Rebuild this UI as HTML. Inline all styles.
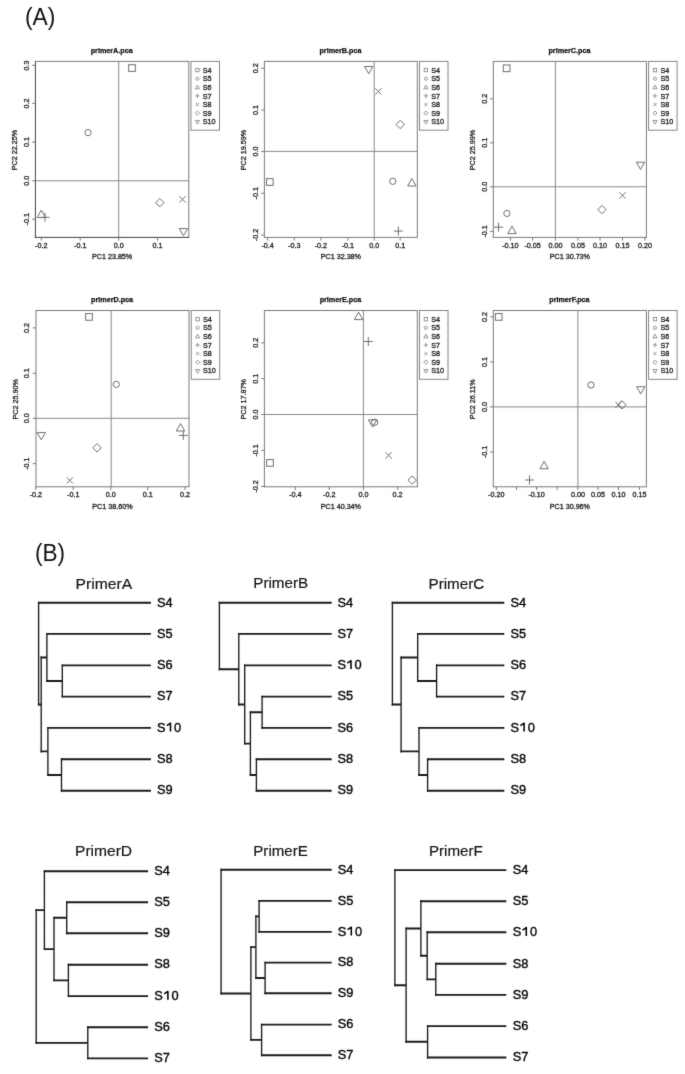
<!DOCTYPE html>
<html><head><meta charset="utf-8"><style>
html,body{margin:0;padding:0;background:#fff;width:685px;height:1074px;overflow:hidden}
svg{display:block;font-family:"Liberation Sans", sans-serif}
#w{filter:grayscale(1);width:685px;height:1074px}
.t{stroke:#222;stroke-width:0.3px}
</style></head><body><div id="w">
<svg width="685" height="1074" viewBox="0 0 685 1074"><defs><filter id="bl" x="0" y="0" width="1" height="1" color-interpolation-filters="sRGB"><feConvolveMatrix order="3" kernelMatrix="1 8 1 8 62 8 1 8 1" divisor="98" edgeMode="duplicate"/></filter></defs><g filter="url(#bl)"><rect width="685" height="1074" fill="#fff"/>
<path d="M118.7 61.4V237.4M35.4 180.8H188.8" stroke="#888" stroke-width="1"/>
<path d="M35.4 60.9V237.9M34.9 237.4H189.3" stroke="#404040" stroke-width="1"/>
<path d="M35.4 61.4H189.3M188.8 61.4V237.4" stroke="#7a7a7a" stroke-width="1"/>
<path d="M41.3 237.4V240.6" stroke="#7a7a7a" stroke-width="1"/>
<text x="41.3" y="247.70" text-anchor="middle" class="t" font-size="7.2" fill="#222">-0.2</text>
<path d="M80.2 237.4V240.6" stroke="#7a7a7a" stroke-width="1"/>
<text x="80.2" y="247.70" text-anchor="middle" class="t" font-size="7.2" fill="#222">-0.1</text>
<path d="M118.7 237.4V240.6" stroke="#7a7a7a" stroke-width="1"/>
<text x="118.7" y="247.70" text-anchor="middle" class="t" font-size="7.2" fill="#222">0.0</text>
<path d="M157.5 237.4V240.6" stroke="#7a7a7a" stroke-width="1"/>
<text x="157.5" y="247.70" text-anchor="middle" class="t" font-size="7.2" fill="#222">0.1</text>
<path d="M35.4 65.4H32.199999999999996" stroke="#7a7a7a" stroke-width="1"/>
<text transform="translate(28.599999999999998 65.4) rotate(-90)" text-anchor="middle" class="t" font-size="7.2" fill="#222">0.3</text>
<path d="M35.4 103.4H32.199999999999996" stroke="#7a7a7a" stroke-width="1"/>
<text transform="translate(28.599999999999998 103.4) rotate(-90)" text-anchor="middle" class="t" font-size="7.2" fill="#222">0.2</text>
<path d="M35.4 142.1H32.199999999999996" stroke="#7a7a7a" stroke-width="1"/>
<text transform="translate(28.599999999999998 142.1) rotate(-90)" text-anchor="middle" class="t" font-size="7.2" fill="#222">0.1</text>
<path d="M35.4 180.8H32.199999999999996" stroke="#7a7a7a" stroke-width="1"/>
<text transform="translate(28.599999999999998 180.8) rotate(-90)" text-anchor="middle" class="t" font-size="7.2" fill="#222">0.0</text>
<path d="M35.4 219.2H32.199999999999996" stroke="#7a7a7a" stroke-width="1"/>
<text transform="translate(28.599999999999998 219.2) rotate(-90)" text-anchor="middle" class="t" font-size="7.2" fill="#222">-0.1</text>
<rect x="128.65" y="64.70" width="6.70" height="6.70" fill="none" stroke="#6e6e6e" stroke-width="1.0"/>
<circle cx="88.04" cy="132.60" r="3.15" fill="none" stroke="#6e6e6e" stroke-width="1.0"/>
<polygon points="41.36,210.10 45.54,217.60 37.18,217.60" fill="none" stroke="#6e6e6e" stroke-width="1.0"/>
<path d="M40.58 217.30H49.48M45.03 212.85V221.75" stroke="#6e6e6e" stroke-width="1.0"/>
<path d="M179.35 196.25L185.65 202.55M179.35 202.55L185.65 196.25" stroke="#6e6e6e" stroke-width="1.0"/>
<polygon points="159.83,198.50 164.03,202.70 159.83,206.90 155.63,202.70" fill="none" stroke="#6e6e6e" stroke-width="1.0"/>
<polygon points="183.40,235.82 187.58,228.59 179.22,228.59" fill="none" stroke="#6e6e6e" stroke-width="1.0"/>
<text x="111.70" y="52.90" text-anchor="middle" font-size="7.2" font-weight="bold" fill="#111" stroke="#111" stroke-width="0.25">primerA.pca</text>
<text x="112.10" y="259.20" text-anchor="middle" class="t" font-size="7.2" fill="#222">PC1 23.85%</text>
<text transform="translate(17.4 150.00) rotate(-90)" text-anchor="middle" class="t" font-size="7.2" fill="#222">PC2 22.25%</text>
<rect x="191.00" y="61.4" width="28.50" height="68.80" fill="none" stroke="#858585" stroke-width="1"/>
<rect x="195.72" y="68.42" width="3.35" height="3.35" fill="none" stroke="#8a8a8a" stroke-width="0.9"/>
<text x="202.80" y="72.70" class="t" font-size="7.2" fill="#222">S4</text>
<circle cx="197.40" cy="78.70" r="1.57" fill="none" stroke="#8a8a8a" stroke-width="0.9"/>
<text x="202.80" y="81.30" class="t" font-size="7.2" fill="#222">S5</text>
<polygon points="197.40,85.05 199.49,88.80 195.31,88.80" fill="none" stroke="#8a8a8a" stroke-width="0.9"/>
<text x="202.80" y="89.90" class="t" font-size="7.2" fill="#222">S6</text>
<path d="M195.18 95.90H199.62M197.40 93.67V98.12" stroke="#8a8a8a" stroke-width="0.9"/>
<text x="202.80" y="98.50" class="t" font-size="7.2" fill="#222">S7</text>
<path d="M195.83 102.92L198.97 106.08M195.83 106.08L198.97 102.92" stroke="#8a8a8a" stroke-width="0.9"/>
<text x="202.80" y="107.10" class="t" font-size="7.2" fill="#222">S8</text>
<polygon points="197.40,111.00 199.50,113.10 197.40,115.20 195.30,113.10" fill="none" stroke="#8a8a8a" stroke-width="0.9"/>
<text x="202.80" y="115.70" class="t" font-size="7.2" fill="#222">S9</text>
<polygon points="197.40,124.11 199.49,120.49 195.31,120.49" fill="none" stroke="#8a8a8a" stroke-width="0.9"/>
<text x="202.80" y="124.30" class="t" font-size="7.2" fill="#222">S10</text>
<path d="M374.2 61.4V237.4M264.4 151.4H417.3" stroke="#888" stroke-width="1"/>
<path d="M264.4 60.9V237.9M263.9 237.4H417.8" stroke="#7a7a7a" stroke-width="1"/>
<path d="M264.4 61.4H417.8M417.3 61.4V237.4" stroke="#7a7a7a" stroke-width="1"/>
<path d="M267.6 237.4V240.6" stroke="#7a7a7a" stroke-width="1"/>
<text x="267.6" y="247.70" text-anchor="middle" class="t" font-size="7.2" fill="#222">-0.4</text>
<path d="M294.2 237.4V240.6" stroke="#7a7a7a" stroke-width="1"/>
<text x="294.2" y="247.70" text-anchor="middle" class="t" font-size="7.2" fill="#222">-0.3</text>
<path d="M320.9 237.4V240.6" stroke="#7a7a7a" stroke-width="1"/>
<text x="320.9" y="247.70" text-anchor="middle" class="t" font-size="7.2" fill="#222">-0.2</text>
<path d="M347.9 237.4V240.6" stroke="#7a7a7a" stroke-width="1"/>
<text x="347.9" y="247.70" text-anchor="middle" class="t" font-size="7.2" fill="#222">-0.1</text>
<path d="M374.2 237.4V240.6" stroke="#7a7a7a" stroke-width="1"/>
<text x="374.2" y="247.70" text-anchor="middle" class="t" font-size="7.2" fill="#222">0.0</text>
<path d="M400.2 237.4V240.6" stroke="#7a7a7a" stroke-width="1"/>
<text x="400.2" y="247.70" text-anchor="middle" class="t" font-size="7.2" fill="#222">0.1</text>
<path d="M264.4 68.3H261.2" stroke="#7a7a7a" stroke-width="1"/>
<text transform="translate(257.59999999999997 68.3) rotate(-90)" text-anchor="middle" class="t" font-size="7.2" fill="#222">0.2</text>
<path d="M264.4 110H261.2" stroke="#7a7a7a" stroke-width="1"/>
<text transform="translate(257.59999999999997 110) rotate(-90)" text-anchor="middle" class="t" font-size="7.2" fill="#222">0.1</text>
<path d="M264.4 151.4H261.2" stroke="#7a7a7a" stroke-width="1"/>
<text transform="translate(257.59999999999997 151.4) rotate(-90)" text-anchor="middle" class="t" font-size="7.2" fill="#222">0.0</text>
<path d="M264.4 193.2H261.2" stroke="#7a7a7a" stroke-width="1"/>
<text transform="translate(257.59999999999997 193.2) rotate(-90)" text-anchor="middle" class="t" font-size="7.2" fill="#222">-0.1</text>
<path d="M264.4 235H261.2" stroke="#7a7a7a" stroke-width="1"/>
<text transform="translate(257.59999999999997 235) rotate(-90)" text-anchor="middle" class="t" font-size="7.2" fill="#222">-0.2</text>
<rect x="266.45" y="178.65" width="6.70" height="6.70" fill="none" stroke="#6e6e6e" stroke-width="1.0"/>
<circle cx="392.80" cy="181.30" r="3.15" fill="none" stroke="#6e6e6e" stroke-width="1.0"/>
<polygon points="411.80,178.50 415.98,186.00 407.62,186.00" fill="none" stroke="#6e6e6e" stroke-width="1.0"/>
<path d="M393.85 231.10H402.75M398.30 226.65V235.55" stroke="#6e6e6e" stroke-width="1.0"/>
<path d="M375.25 88.25L381.55 94.55M375.25 94.55L381.55 88.25" stroke="#6e6e6e" stroke-width="1.0"/>
<polygon points="400.20,120.30 404.40,124.50 400.20,128.70 396.00,124.50" fill="none" stroke="#6e6e6e" stroke-width="1.0"/>
<polygon points="368.70,73.72 372.88,66.49 364.52,66.49" fill="none" stroke="#6e6e6e" stroke-width="1.0"/>
<text x="340.45" y="52.90" text-anchor="middle" font-size="7.2" font-weight="bold" fill="#111" stroke="#111" stroke-width="0.25">primerB.pca</text>
<text x="340.85" y="259.20" text-anchor="middle" class="t" font-size="7.2" fill="#222">PC1 32.38%</text>
<text transform="translate(246.39999999999998 150.00) rotate(-90)" text-anchor="middle" class="t" font-size="7.2" fill="#222">PC2 19.59%</text>
<rect x="419.50" y="61.4" width="28.50" height="68.80" fill="none" stroke="#858585" stroke-width="1"/>
<rect x="424.22" y="68.42" width="3.35" height="3.35" fill="none" stroke="#8a8a8a" stroke-width="0.9"/>
<text x="431.30" y="72.70" class="t" font-size="7.2" fill="#222">S4</text>
<circle cx="425.90" cy="78.70" r="1.57" fill="none" stroke="#8a8a8a" stroke-width="0.9"/>
<text x="431.30" y="81.30" class="t" font-size="7.2" fill="#222">S5</text>
<polygon points="425.90,85.05 427.99,88.80 423.81,88.80" fill="none" stroke="#8a8a8a" stroke-width="0.9"/>
<text x="431.30" y="89.90" class="t" font-size="7.2" fill="#222">S6</text>
<path d="M423.67 95.90H428.12M425.90 93.67V98.12" stroke="#8a8a8a" stroke-width="0.9"/>
<text x="431.30" y="98.50" class="t" font-size="7.2" fill="#222">S7</text>
<path d="M424.32 102.92L427.47 106.08M424.32 106.08L427.47 102.92" stroke="#8a8a8a" stroke-width="0.9"/>
<text x="431.30" y="107.10" class="t" font-size="7.2" fill="#222">S8</text>
<polygon points="425.90,111.00 428.00,113.10 425.90,115.20 423.80,113.10" fill="none" stroke="#8a8a8a" stroke-width="0.9"/>
<text x="431.30" y="115.70" class="t" font-size="7.2" fill="#222">S9</text>
<polygon points="425.90,124.11 427.99,120.49 423.81,120.49" fill="none" stroke="#8a8a8a" stroke-width="0.9"/>
<text x="431.30" y="124.30" class="t" font-size="7.2" fill="#222">S10</text>
<path d="M555.4 61.4V237.4M493.3 186.8H646.4" stroke="#888" stroke-width="1"/>
<path d="M493.3 60.9V237.9M492.8 237.4H646.9" stroke="#7a7a7a" stroke-width="1"/>
<path d="M493.3 61.4H646.9M646.4 61.4V237.4" stroke="#7a7a7a" stroke-width="1"/>
<path d="M510.4 237.4V240.6" stroke="#7a7a7a" stroke-width="1"/>
<text x="510.4" y="247.70" text-anchor="middle" class="t" font-size="7.2" fill="#222">-0.10</text>
<path d="M532.6 237.4V240.6" stroke="#7a7a7a" stroke-width="1"/>
<text x="532.6" y="247.70" text-anchor="middle" class="t" font-size="7.2" fill="#222">-0.05</text>
<path d="M555.4 237.4V240.6" stroke="#7a7a7a" stroke-width="1"/>
<text x="555.4" y="247.70" text-anchor="middle" class="t" font-size="7.2" fill="#222">0.00</text>
<path d="M577.9 237.4V240.6" stroke="#7a7a7a" stroke-width="1"/>
<text x="577.9" y="247.70" text-anchor="middle" class="t" font-size="7.2" fill="#222">0.05</text>
<path d="M600 237.4V240.6" stroke="#7a7a7a" stroke-width="1"/>
<text x="600" y="247.70" text-anchor="middle" class="t" font-size="7.2" fill="#222">0.10</text>
<path d="M622.5 237.4V240.6" stroke="#7a7a7a" stroke-width="1"/>
<text x="622.5" y="247.70" text-anchor="middle" class="t" font-size="7.2" fill="#222">0.15</text>
<path d="M645 237.4V240.6" stroke="#7a7a7a" stroke-width="1"/>
<text x="645" y="247.70" text-anchor="middle" class="t" font-size="7.2" fill="#222">0.20</text>
<path d="M493.3 98.8H490.1" stroke="#7a7a7a" stroke-width="1"/>
<text transform="translate(486.5 98.8) rotate(-90)" text-anchor="middle" class="t" font-size="7.2" fill="#222">0.2</text>
<path d="M493.3 142.8H490.1" stroke="#7a7a7a" stroke-width="1"/>
<text transform="translate(486.5 142.8) rotate(-90)" text-anchor="middle" class="t" font-size="7.2" fill="#222">0.1</text>
<path d="M493.3 186.8H490.1" stroke="#7a7a7a" stroke-width="1"/>
<text transform="translate(486.5 186.8) rotate(-90)" text-anchor="middle" class="t" font-size="7.2" fill="#222">0.0</text>
<path d="M493.3 231.4H490.1" stroke="#7a7a7a" stroke-width="1"/>
<text transform="translate(486.5 231.4) rotate(-90)" text-anchor="middle" class="t" font-size="7.2" fill="#222">-0.1</text>
<rect x="503.25" y="64.95" width="6.70" height="6.70" fill="none" stroke="#6e6e6e" stroke-width="1.0"/>
<circle cx="506.90" cy="213.40" r="3.15" fill="none" stroke="#6e6e6e" stroke-width="1.0"/>
<polygon points="512.00,226.10 516.18,233.60 507.82,233.60" fill="none" stroke="#6e6e6e" stroke-width="1.0"/>
<path d="M494.05 227.20H502.95M498.50 222.75V231.65" stroke="#6e6e6e" stroke-width="1.0"/>
<path d="M619.35 192.25L625.65 198.55M619.35 198.55L625.65 192.25" stroke="#6e6e6e" stroke-width="1.0"/>
<polygon points="602.00,205.40 606.20,209.60 602.00,213.80 597.80,209.60" fill="none" stroke="#6e6e6e" stroke-width="1.0"/>
<polygon points="640.50,169.42 644.68,162.19 636.32,162.19" fill="none" stroke="#6e6e6e" stroke-width="1.0"/>
<text x="569.45" y="52.90" text-anchor="middle" font-size="7.2" font-weight="bold" fill="#111" stroke="#111" stroke-width="0.25">primerC.pca</text>
<text x="569.85" y="259.20" text-anchor="middle" class="t" font-size="7.2" fill="#222">PC1 30.73%</text>
<text transform="translate(475.3 150.00) rotate(-90)" text-anchor="middle" class="t" font-size="7.2" fill="#222">PC2 25.99%</text>
<rect x="648.60" y="61.4" width="28.50" height="68.80" fill="none" stroke="#858585" stroke-width="1"/>
<rect x="653.33" y="68.42" width="3.35" height="3.35" fill="none" stroke="#8a8a8a" stroke-width="0.9"/>
<text x="660.40" y="72.70" class="t" font-size="7.2" fill="#222">S4</text>
<circle cx="655.00" cy="78.70" r="1.57" fill="none" stroke="#8a8a8a" stroke-width="0.9"/>
<text x="660.40" y="81.30" class="t" font-size="7.2" fill="#222">S5</text>
<polygon points="655.00,85.05 657.09,88.80 652.91,88.80" fill="none" stroke="#8a8a8a" stroke-width="0.9"/>
<text x="660.40" y="89.90" class="t" font-size="7.2" fill="#222">S6</text>
<path d="M652.77 95.90H657.23M655.00 93.67V98.12" stroke="#8a8a8a" stroke-width="0.9"/>
<text x="660.40" y="98.50" class="t" font-size="7.2" fill="#222">S7</text>
<path d="M653.42 102.92L656.58 106.08M653.42 106.08L656.58 102.92" stroke="#8a8a8a" stroke-width="0.9"/>
<text x="660.40" y="107.10" class="t" font-size="7.2" fill="#222">S8</text>
<polygon points="655.00,111.00 657.10,113.10 655.00,115.20 652.90,113.10" fill="none" stroke="#8a8a8a" stroke-width="0.9"/>
<text x="660.40" y="115.70" class="t" font-size="7.2" fill="#222">S9</text>
<polygon points="655.00,124.11 657.09,120.49 652.91,120.49" fill="none" stroke="#8a8a8a" stroke-width="0.9"/>
<text x="660.40" y="124.30" class="t" font-size="7.2" fill="#222">S10</text>
<path d="M111.2 310.5V486.8M36 418.3H189" stroke="#888" stroke-width="1"/>
<path d="M36 310.0V487.3M35.5 486.8H189.5" stroke="#7a7a7a" stroke-width="1"/>
<path d="M36 310.5H189.5M189 310.5V486.8" stroke="#7a7a7a" stroke-width="1"/>
<path d="M35.9 486.8V490.0" stroke="#7a7a7a" stroke-width="1"/>
<text x="35.9" y="497.10" text-anchor="middle" class="t" font-size="7.2" fill="#222">-0.2</text>
<path d="M73.2 486.8V490.0" stroke="#7a7a7a" stroke-width="1"/>
<text x="73.2" y="497.10" text-anchor="middle" class="t" font-size="7.2" fill="#222">-0.1</text>
<path d="M110.8 486.8V490.0" stroke="#7a7a7a" stroke-width="1"/>
<text x="110.8" y="497.10" text-anchor="middle" class="t" font-size="7.2" fill="#222">0.0</text>
<path d="M147.7 486.8V490.0" stroke="#7a7a7a" stroke-width="1"/>
<text x="147.7" y="497.10" text-anchor="middle" class="t" font-size="7.2" fill="#222">0.1</text>
<path d="M185 486.8V490.0" stroke="#7a7a7a" stroke-width="1"/>
<text x="185" y="497.10" text-anchor="middle" class="t" font-size="7.2" fill="#222">0.2</text>
<path d="M36 327.9H32.8" stroke="#7a7a7a" stroke-width="1"/>
<text transform="translate(29.2 327.9) rotate(-90)" text-anchor="middle" class="t" font-size="7.2" fill="#222">0.2</text>
<path d="M36 373.3H32.8" stroke="#7a7a7a" stroke-width="1"/>
<text transform="translate(29.2 373.3) rotate(-90)" text-anchor="middle" class="t" font-size="7.2" fill="#222">0.1</text>
<path d="M36 418.3H32.8" stroke="#7a7a7a" stroke-width="1"/>
<text transform="translate(29.2 418.3) rotate(-90)" text-anchor="middle" class="t" font-size="7.2" fill="#222">0.0</text>
<path d="M36 463.6H32.8" stroke="#7a7a7a" stroke-width="1"/>
<text transform="translate(29.2 463.6) rotate(-90)" text-anchor="middle" class="t" font-size="7.2" fill="#222">-0.1</text>
<rect x="85.65" y="313.55" width="6.70" height="6.70" fill="none" stroke="#6e6e6e" stroke-width="1.0"/>
<circle cx="116.30" cy="384.40" r="3.15" fill="none" stroke="#6e6e6e" stroke-width="1.0"/>
<polygon points="180.50,423.50 184.68,431.00 176.32,431.00" fill="none" stroke="#6e6e6e" stroke-width="1.0"/>
<path d="M178.85 435.40H187.75M183.30 430.95V439.85" stroke="#6e6e6e" stroke-width="1.0"/>
<path d="M66.65 477.25L72.95 483.55M66.65 483.55L72.95 477.25" stroke="#6e6e6e" stroke-width="1.0"/>
<polygon points="97.00,443.60 101.20,447.80 97.00,452.00 92.80,447.80" fill="none" stroke="#6e6e6e" stroke-width="1.0"/>
<polygon points="41.30,439.82 45.48,432.59 37.12,432.59" fill="none" stroke="#6e6e6e" stroke-width="1.0"/>
<text x="112.10" y="302.00" text-anchor="middle" font-size="7.2" font-weight="bold" fill="#111" stroke="#111" stroke-width="0.25">primerD.pca</text>
<text x="112.50" y="508.60" text-anchor="middle" class="t" font-size="7.2" fill="#222">PC1 38.60%</text>
<text transform="translate(18.0 399.25) rotate(-90)" text-anchor="middle" class="t" font-size="7.2" fill="#222">PC2 25.90%</text>
<rect x="191.20" y="310.5" width="28.50" height="68.80" fill="none" stroke="#858585" stroke-width="1"/>
<rect x="195.92" y="317.52" width="3.35" height="3.35" fill="none" stroke="#8a8a8a" stroke-width="0.9"/>
<text x="203.00" y="321.80" class="t" font-size="7.2" fill="#222">S4</text>
<circle cx="197.60" cy="327.80" r="1.57" fill="none" stroke="#8a8a8a" stroke-width="0.9"/>
<text x="203.00" y="330.40" class="t" font-size="7.2" fill="#222">S5</text>
<polygon points="197.60,334.15 199.69,337.90 195.51,337.90" fill="none" stroke="#8a8a8a" stroke-width="0.9"/>
<text x="203.00" y="339.00" class="t" font-size="7.2" fill="#222">S6</text>
<path d="M195.38 345.00H199.82M197.60 342.77V347.23" stroke="#8a8a8a" stroke-width="0.9"/>
<text x="203.00" y="347.60" class="t" font-size="7.2" fill="#222">S7</text>
<path d="M196.03 352.02L199.17 355.17M196.03 355.17L199.17 352.02" stroke="#8a8a8a" stroke-width="0.9"/>
<text x="203.00" y="356.20" class="t" font-size="7.2" fill="#222">S8</text>
<polygon points="197.60,360.10 199.70,362.20 197.60,364.30 195.50,362.20" fill="none" stroke="#8a8a8a" stroke-width="0.9"/>
<text x="203.00" y="364.80" class="t" font-size="7.2" fill="#222">S9</text>
<polygon points="197.60,373.21 199.69,369.59 195.51,369.59" fill="none" stroke="#8a8a8a" stroke-width="0.9"/>
<text x="203.00" y="373.40" class="t" font-size="7.2" fill="#222">S10</text>
<path d="M363.4 310.5V486.8M264.4 414.5H417.3" stroke="#888" stroke-width="1"/>
<path d="M264.4 310.0V487.3M263.9 486.8H417.8" stroke="#7a7a7a" stroke-width="1"/>
<path d="M264.4 310.5H417.8M417.3 310.5V486.8" stroke="#7a7a7a" stroke-width="1"/>
<path d="M295.3 486.8V490.0" stroke="#7a7a7a" stroke-width="1"/>
<text x="295.3" y="497.10" text-anchor="middle" class="t" font-size="7.2" fill="#222">-0.4</text>
<path d="M329.3 486.8V490.0" stroke="#7a7a7a" stroke-width="1"/>
<text x="329.3" y="497.10" text-anchor="middle" class="t" font-size="7.2" fill="#222">-0.2</text>
<path d="M363.4 486.8V490.0" stroke="#7a7a7a" stroke-width="1"/>
<text x="363.4" y="497.10" text-anchor="middle" class="t" font-size="7.2" fill="#222">0.0</text>
<path d="M397.6 486.8V490.0" stroke="#7a7a7a" stroke-width="1"/>
<text x="397.6" y="497.10" text-anchor="middle" class="t" font-size="7.2" fill="#222">0.2</text>
<path d="M264.4 342.8H261.2" stroke="#7a7a7a" stroke-width="1"/>
<text transform="translate(257.59999999999997 342.8) rotate(-90)" text-anchor="middle" class="t" font-size="7.2" fill="#222">0.2</text>
<path d="M264.4 378.7H261.2" stroke="#7a7a7a" stroke-width="1"/>
<text transform="translate(257.59999999999997 378.7) rotate(-90)" text-anchor="middle" class="t" font-size="7.2" fill="#222">0.1</text>
<path d="M264.4 414.5H261.2" stroke="#7a7a7a" stroke-width="1"/>
<text transform="translate(257.59999999999997 414.5) rotate(-90)" text-anchor="middle" class="t" font-size="7.2" fill="#222">0.0</text>
<path d="M264.4 450.4H261.2" stroke="#7a7a7a" stroke-width="1"/>
<text transform="translate(257.59999999999997 450.4) rotate(-90)" text-anchor="middle" class="t" font-size="7.2" fill="#222">-0.1</text>
<path d="M264.4 486.4H261.2" stroke="#7a7a7a" stroke-width="1"/>
<text transform="translate(257.59999999999997 486.4) rotate(-90)" text-anchor="middle" class="t" font-size="7.2" fill="#222">-0.2</text>
<rect x="266.65" y="459.55" width="6.70" height="6.70" fill="none" stroke="#6e6e6e" stroke-width="1.0"/>
<circle cx="374.70" cy="422.30" r="3.15" fill="none" stroke="#6e6e6e" stroke-width="1.0"/>
<polygon points="358.60,312.10 362.78,319.60 354.42,319.60" fill="none" stroke="#6e6e6e" stroke-width="1.0"/>
<path d="M363.85 341.50H372.75M368.30 337.05V345.95" stroke="#6e6e6e" stroke-width="1.0"/>
<path d="M385.45 452.25L391.75 458.55M385.45 458.55L391.75 452.25" stroke="#6e6e6e" stroke-width="1.0"/>
<polygon points="412.20,475.90 416.40,480.10 412.20,484.30 408.00,480.10" fill="none" stroke="#6e6e6e" stroke-width="1.0"/>
<polygon points="372.60,427.12 376.78,419.89 368.42,419.89" fill="none" stroke="#6e6e6e" stroke-width="1.0"/>
<text x="340.45" y="302.00" text-anchor="middle" font-size="7.2" font-weight="bold" fill="#111" stroke="#111" stroke-width="0.25">primerE.pca</text>
<text x="340.85" y="508.60" text-anchor="middle" class="t" font-size="7.2" fill="#222">PC1 40.34%</text>
<text transform="translate(246.39999999999998 399.25) rotate(-90)" text-anchor="middle" class="t" font-size="7.2" fill="#222">PC2 17.87%</text>
<rect x="419.50" y="310.5" width="28.50" height="68.80" fill="none" stroke="#858585" stroke-width="1"/>
<rect x="424.22" y="317.52" width="3.35" height="3.35" fill="none" stroke="#8a8a8a" stroke-width="0.9"/>
<text x="431.30" y="321.80" class="t" font-size="7.2" fill="#222">S4</text>
<circle cx="425.90" cy="327.80" r="1.57" fill="none" stroke="#8a8a8a" stroke-width="0.9"/>
<text x="431.30" y="330.40" class="t" font-size="7.2" fill="#222">S5</text>
<polygon points="425.90,334.15 427.99,337.90 423.81,337.90" fill="none" stroke="#8a8a8a" stroke-width="0.9"/>
<text x="431.30" y="339.00" class="t" font-size="7.2" fill="#222">S6</text>
<path d="M423.67 345.00H428.12M425.90 342.77V347.23" stroke="#8a8a8a" stroke-width="0.9"/>
<text x="431.30" y="347.60" class="t" font-size="7.2" fill="#222">S7</text>
<path d="M424.32 352.02L427.47 355.17M424.32 355.17L427.47 352.02" stroke="#8a8a8a" stroke-width="0.9"/>
<text x="431.30" y="356.20" class="t" font-size="7.2" fill="#222">S8</text>
<polygon points="425.90,360.10 428.00,362.20 425.90,364.30 423.80,362.20" fill="none" stroke="#8a8a8a" stroke-width="0.9"/>
<text x="431.30" y="364.80" class="t" font-size="7.2" fill="#222">S9</text>
<polygon points="425.90,373.21 427.99,369.59 423.81,369.59" fill="none" stroke="#8a8a8a" stroke-width="0.9"/>
<text x="431.30" y="373.40" class="t" font-size="7.2" fill="#222">S10</text>
<path d="M577.9 310.5V486.8M493.3 406.9H646.4" stroke="#888" stroke-width="1"/>
<path d="M493.3 310.0V487.3M492.8 486.8H646.9" stroke="#7a7a7a" stroke-width="1"/>
<path d="M493.3 310.5H646.9M646.4 310.5V486.8" stroke="#7a7a7a" stroke-width="1"/>
<path d="M496.3 486.8V490.0" stroke="#7a7a7a" stroke-width="1"/>
<text x="496.3" y="497.10" text-anchor="middle" class="t" font-size="7.2" fill="#222">-0.20</text>
<path d="M516.5 486.8V490.0" stroke="#7a7a7a" stroke-width="1"/>
<path d="M536.6 486.8V490.0" stroke="#7a7a7a" stroke-width="1"/>
<text x="536.6" y="497.10" text-anchor="middle" class="t" font-size="7.2" fill="#222">-0.10</text>
<path d="M557.2 486.8V490.0" stroke="#7a7a7a" stroke-width="1"/>
<path d="M577.9 486.8V490.0" stroke="#7a7a7a" stroke-width="1"/>
<text x="577.9" y="497.10" text-anchor="middle" class="t" font-size="7.2" fill="#222">0.00</text>
<path d="M598 486.8V490.0" stroke="#7a7a7a" stroke-width="1"/>
<text x="598" y="497.10" text-anchor="middle" class="t" font-size="7.2" fill="#222">0.05</text>
<path d="M618.5 486.8V490.0" stroke="#7a7a7a" stroke-width="1"/>
<text x="618.5" y="497.10" text-anchor="middle" class="t" font-size="7.2" fill="#222">0.10</text>
<path d="M639.4 486.8V490.0" stroke="#7a7a7a" stroke-width="1"/>
<text x="639.4" y="497.10" text-anchor="middle" class="t" font-size="7.2" fill="#222">0.15</text>
<path d="M493.3 316.9H490.1" stroke="#7a7a7a" stroke-width="1"/>
<text transform="translate(486.5 316.9) rotate(-90)" text-anchor="middle" class="t" font-size="7.2" fill="#222">0.2</text>
<path d="M493.3 361.9H490.1" stroke="#7a7a7a" stroke-width="1"/>
<text transform="translate(486.5 361.9) rotate(-90)" text-anchor="middle" class="t" font-size="7.2" fill="#222">0.1</text>
<path d="M493.3 406.9H490.1" stroke="#7a7a7a" stroke-width="1"/>
<text transform="translate(486.5 406.9) rotate(-90)" text-anchor="middle" class="t" font-size="7.2" fill="#222">0.0</text>
<path d="M493.3 451.9H490.1" stroke="#7a7a7a" stroke-width="1"/>
<text transform="translate(486.5 451.9) rotate(-90)" text-anchor="middle" class="t" font-size="7.2" fill="#222">-0.1</text>
<rect x="495.35" y="313.55" width="6.70" height="6.70" fill="none" stroke="#6e6e6e" stroke-width="1.0"/>
<circle cx="591.00" cy="385.00" r="3.15" fill="none" stroke="#6e6e6e" stroke-width="1.0"/>
<polygon points="544.10,461.30 548.28,468.80 539.92,468.80" fill="none" stroke="#6e6e6e" stroke-width="1.0"/>
<path d="M525.05 480.00H533.95M529.50 475.55V484.45" stroke="#6e6e6e" stroke-width="1.0"/>
<path d="M615.35 401.65L621.65 407.95M615.35 407.95L621.65 401.65" stroke="#6e6e6e" stroke-width="1.0"/>
<polygon points="622.00,400.60 626.20,404.80 622.00,409.00 617.80,404.80" fill="none" stroke="#6e6e6e" stroke-width="1.0"/>
<polygon points="640.70,393.92 644.88,386.69 636.52,386.69" fill="none" stroke="#6e6e6e" stroke-width="1.0"/>
<text x="569.45" y="302.00" text-anchor="middle" font-size="7.2" font-weight="bold" fill="#111" stroke="#111" stroke-width="0.25">primerF.pca</text>
<text x="569.85" y="508.60" text-anchor="middle" class="t" font-size="7.2" fill="#222">PC1 30.96%</text>
<text transform="translate(475.3 399.25) rotate(-90)" text-anchor="middle" class="t" font-size="7.2" fill="#222">PC2 26.11%</text>
<rect x="648.60" y="310.5" width="28.50" height="68.80" fill="none" stroke="#858585" stroke-width="1"/>
<rect x="653.33" y="317.52" width="3.35" height="3.35" fill="none" stroke="#8a8a8a" stroke-width="0.9"/>
<text x="660.40" y="321.80" class="t" font-size="7.2" fill="#222">S4</text>
<circle cx="655.00" cy="327.80" r="1.57" fill="none" stroke="#8a8a8a" stroke-width="0.9"/>
<text x="660.40" y="330.40" class="t" font-size="7.2" fill="#222">S5</text>
<polygon points="655.00,334.15 657.09,337.90 652.91,337.90" fill="none" stroke="#8a8a8a" stroke-width="0.9"/>
<text x="660.40" y="339.00" class="t" font-size="7.2" fill="#222">S6</text>
<path d="M652.77 345.00H657.23M655.00 342.77V347.23" stroke="#8a8a8a" stroke-width="0.9"/>
<text x="660.40" y="347.60" class="t" font-size="7.2" fill="#222">S7</text>
<path d="M653.42 352.02L656.58 355.17M653.42 355.17L656.58 352.02" stroke="#8a8a8a" stroke-width="0.9"/>
<text x="660.40" y="356.20" class="t" font-size="7.2" fill="#222">S8</text>
<polygon points="655.00,360.10 657.10,362.20 655.00,364.30 652.90,362.20" fill="none" stroke="#8a8a8a" stroke-width="0.9"/>
<text x="660.40" y="364.80" class="t" font-size="7.2" fill="#222">S9</text>
<polygon points="655.00,373.21 657.09,369.59 652.91,369.59" fill="none" stroke="#8a8a8a" stroke-width="0.9"/>
<text x="660.40" y="373.40" class="t" font-size="7.2" fill="#222">S10</text>
<text x="156.9" y="606.50" font-size="12.8" fill="#000" stroke="#000" stroke-width="0.35">S4</text>
<text x="156.9" y="637.60" font-size="12.8" fill="#000" stroke="#000" stroke-width="0.35">S5</text>
<text x="156.9" y="669.10" font-size="12.8" fill="#000" stroke="#000" stroke-width="0.35">S6</text>
<text x="156.9" y="700.30" font-size="12.8" fill="#000" stroke="#000" stroke-width="0.35">S7</text>
<text x="156.9" y="731.60" font-size="12.8" fill="#000" stroke="#000" stroke-width="0.35">S</text>
<path d="M170.50 731.60V723.20L166.80 725.70" fill="none" stroke="#000" stroke-width="1.55" stroke-linejoin="round"/>
<text x="174.10" y="731.60" font-size="12.8" fill="#000" stroke="#000" stroke-width="0.35">0</text>
<text x="156.9" y="762.90" font-size="12.8" fill="#000" stroke="#000" stroke-width="0.35">S8</text>
<text x="156.9" y="794.40" font-size="12.8" fill="#000" stroke="#000" stroke-width="0.35">S9</text>
<path d="M61.62 665.40H150.90M61.62 696.60H150.90M46.23 633.90H150.90M46.23 681.00H62.30M60.83 759.20H150.90M60.83 790.70H150.90M47.23 727.90H150.90M47.23 774.95H61.50M40.53 657.45H46.90M40.53 751.42H47.90M37.93 602.80H150.90M37.93 704.44H41.20" fill="none" stroke="#1a1a1a" stroke-width="1.9"/>
<path d="M62.30 664.45V697.55M46.90 632.95V681.95M61.50 758.25V791.65M47.90 726.95V775.90M41.20 656.50V752.38M38.60 601.85V705.39" fill="none" stroke="#1a1a1a" stroke-width="1.35"/>
<text x="75.5" y="588.9" font-size="14.7" fill="#111" stroke="#111" stroke-width="0.15" textLength="56.6" lengthAdjust="spacingAndGlyphs">PrimerA</text>
<text x="337.4" y="606.50" font-size="12.8" fill="#000" stroke="#000" stroke-width="0.35">S4</text>
<text x="337.4" y="637.60" font-size="12.8" fill="#000" stroke="#000" stroke-width="0.35">S7</text>
<text x="337.4" y="669.10" font-size="12.8" fill="#000" stroke="#000" stroke-width="0.35">S</text>
<path d="M351.00 669.10V660.70L347.30 663.20" fill="none" stroke="#000" stroke-width="1.55" stroke-linejoin="round"/>
<text x="354.60" y="669.10" font-size="12.8" fill="#000" stroke="#000" stroke-width="0.35">0</text>
<text x="337.4" y="700.30" font-size="12.8" fill="#000" stroke="#000" stroke-width="0.35">S5</text>
<text x="337.4" y="731.60" font-size="12.8" fill="#000" stroke="#000" stroke-width="0.35">S6</text>
<text x="337.4" y="762.90" font-size="12.8" fill="#000" stroke="#000" stroke-width="0.35">S8</text>
<text x="337.4" y="794.40" font-size="12.8" fill="#000" stroke="#000" stroke-width="0.35">S9</text>
<path d="M261.43 696.60H331.70M261.43 727.90H331.70M255.72 759.20H331.70M255.72 790.70H331.70M249.72 712.25H262.10M249.72 774.95H256.40M244.02 665.40H331.70M244.02 743.60H250.40M238.12 633.90H331.70M238.12 704.50H244.70M218.72 602.80H331.70M218.72 669.20H238.80" fill="none" stroke="#1a1a1a" stroke-width="1.9"/>
<path d="M262.10 695.65V728.85M256.40 758.25V791.65M250.40 711.30V775.90M244.70 664.45V744.55M238.80 632.95V705.45M219.40 601.85V670.15" fill="none" stroke="#1a1a1a" stroke-width="1.35"/>
<text x="253.3" y="588.4" font-size="14.7" fill="#111" stroke="#111" stroke-width="0.15" textLength="54.8" lengthAdjust="spacingAndGlyphs">PrimerB</text>
<text x="510.5" y="606.50" font-size="12.8" fill="#000" stroke="#000" stroke-width="0.35">S4</text>
<text x="510.5" y="637.60" font-size="12.8" fill="#000" stroke="#000" stroke-width="0.35">S5</text>
<text x="510.5" y="669.10" font-size="12.8" fill="#000" stroke="#000" stroke-width="0.35">S6</text>
<text x="510.5" y="700.30" font-size="12.8" fill="#000" stroke="#000" stroke-width="0.35">S7</text>
<text x="510.5" y="731.60" font-size="12.8" fill="#000" stroke="#000" stroke-width="0.35">S</text>
<path d="M524.10 731.60V723.20L520.40 725.70" fill="none" stroke="#000" stroke-width="1.55" stroke-linejoin="round"/>
<text x="527.70" y="731.60" font-size="12.8" fill="#000" stroke="#000" stroke-width="0.35">0</text>
<text x="510.5" y="762.90" font-size="12.8" fill="#000" stroke="#000" stroke-width="0.35">S8</text>
<text x="510.5" y="794.40" font-size="12.8" fill="#000" stroke="#000" stroke-width="0.35">S9</text>
<path d="M435.93 665.40H504.30M435.93 696.60H504.30M417.02 633.90H504.30M417.02 681.00H436.60M426.93 759.20H504.30M426.93 790.70H504.30M418.32 727.90H504.30M418.32 774.95H427.60M400.43 657.45H417.70M400.43 751.42H419.00M391.72 602.80H504.30M391.72 704.44H401.10" fill="none" stroke="#1a1a1a" stroke-width="1.9"/>
<path d="M436.60 664.45V697.55M417.70 632.95V681.95M427.60 758.25V791.65M419.00 726.95V775.90M401.10 656.50V752.38M392.40 601.85V705.39" fill="none" stroke="#1a1a1a" stroke-width="1.35"/>
<text x="428.6" y="588.9" font-size="14.7" fill="#111" stroke="#111" stroke-width="0.15" textLength="55.6" lengthAdjust="spacingAndGlyphs">PrimerC</text>
<text x="154.3" y="874.90" font-size="12.8" fill="#000" stroke="#000" stroke-width="0.35">S4</text>
<text x="154.3" y="906.00" font-size="12.8" fill="#000" stroke="#000" stroke-width="0.35">S5</text>
<text x="154.3" y="937.00" font-size="12.8" fill="#000" stroke="#000" stroke-width="0.35">S9</text>
<text x="154.3" y="968.40" font-size="12.8" fill="#000" stroke="#000" stroke-width="0.35">S8</text>
<text x="154.3" y="999.80" font-size="12.8" fill="#000" stroke="#000" stroke-width="0.35">S</text>
<path d="M167.90 999.80V991.40L164.20 993.90" fill="none" stroke="#000" stroke-width="1.55" stroke-linejoin="round"/>
<text x="171.50" y="999.80" font-size="12.8" fill="#000" stroke="#000" stroke-width="0.35">0</text>
<text x="154.3" y="1031.00" font-size="12.8" fill="#000" stroke="#000" stroke-width="0.35">S6</text>
<text x="154.3" y="1062.10" font-size="12.8" fill="#000" stroke="#000" stroke-width="0.35">S7</text>
<path d="M66.03 902.30H148.10M66.03 933.30H148.10M67.73 964.70H148.10M67.73 996.10H148.10M53.33 917.80H66.70M53.33 980.40H68.40M43.73 871.20H148.10M43.73 949.10H54.00M87.12 1027.30H148.10M87.12 1058.40H148.10M35.53 910.15H44.40M35.53 1042.85H87.80" fill="none" stroke="#1a1a1a" stroke-width="1.9"/>
<path d="M66.70 901.35V934.25M68.40 963.75V997.05M54.00 916.85V981.35M44.40 870.25V950.05M87.80 1026.35V1059.35M36.20 909.20V1043.80" fill="none" stroke="#1a1a1a" stroke-width="1.35"/>
<text x="75.0" y="856.4" font-size="14.7" fill="#111" stroke="#111" stroke-width="0.15" textLength="57.1" lengthAdjust="spacingAndGlyphs">PrimerD</text>
<text x="337.7" y="873.50" font-size="12.8" fill="#000" stroke="#000" stroke-width="0.35">S4</text>
<text x="337.7" y="904.60" font-size="12.8" fill="#000" stroke="#000" stroke-width="0.35">S5</text>
<text x="337.7" y="935.60" font-size="12.8" fill="#000" stroke="#000" stroke-width="0.35">S</text>
<path d="M351.30 935.60V927.20L347.60 929.70" fill="none" stroke="#000" stroke-width="1.55" stroke-linejoin="round"/>
<text x="354.90" y="935.60" font-size="12.8" fill="#000" stroke="#000" stroke-width="0.35">0</text>
<text x="337.7" y="966.30" font-size="12.8" fill="#000" stroke="#000" stroke-width="0.35">S8</text>
<text x="337.7" y="997.00" font-size="12.8" fill="#000" stroke="#000" stroke-width="0.35">S9</text>
<text x="337.7" y="1028.30" font-size="12.8" fill="#000" stroke="#000" stroke-width="0.35">S6</text>
<text x="337.7" y="1058.90" font-size="12.8" fill="#000" stroke="#000" stroke-width="0.35">S7</text>
<path d="M258.43 900.90H331.70M258.43 931.90H331.70M264.43 962.60H331.70M264.43 993.30H331.70M255.22 916.40H259.10M255.22 977.95H265.10M260.93 1024.60H331.70M260.93 1055.20H331.70M250.22 947.17H255.90M250.22 1039.90H261.60M220.42 869.80H331.70M220.42 993.54H250.90" fill="none" stroke="#1a1a1a" stroke-width="1.9"/>
<path d="M259.10 899.95V932.85M265.10 961.65V994.25M255.90 915.45V978.90M261.60 1023.65V1056.15M250.90 946.22V1040.85M221.10 868.85V994.49" fill="none" stroke="#1a1a1a" stroke-width="1.35"/>
<text x="253.3" y="855.9" font-size="14.7" fill="#111" stroke="#111" stroke-width="0.15" textLength="54.5" lengthAdjust="spacingAndGlyphs">PrimerE</text>
<text x="512.7" y="873.80" font-size="12.8" fill="#000" stroke="#000" stroke-width="0.35">S4</text>
<text x="512.7" y="905.00" font-size="12.8" fill="#000" stroke="#000" stroke-width="0.35">S5</text>
<text x="512.7" y="936.00" font-size="12.8" fill="#000" stroke="#000" stroke-width="0.35">S</text>
<path d="M526.30 936.00V927.60L522.60 930.10" fill="none" stroke="#000" stroke-width="1.55" stroke-linejoin="round"/>
<text x="529.90" y="936.00" font-size="12.8" fill="#000" stroke="#000" stroke-width="0.35">0</text>
<text x="512.7" y="967.50" font-size="12.8" fill="#000" stroke="#000" stroke-width="0.35">S8</text>
<text x="512.7" y="998.60" font-size="12.8" fill="#000" stroke="#000" stroke-width="0.35">S9</text>
<text x="512.7" y="1029.80" font-size="12.8" fill="#000" stroke="#000" stroke-width="0.35">S6</text>
<text x="512.7" y="1061.20" font-size="12.8" fill="#000" stroke="#000" stroke-width="0.35">S7</text>
<path d="M435.12 963.80H506.30M435.12 994.90H506.30M426.52 932.30H506.30M426.52 979.35H435.80M420.22 901.30H506.30M420.22 955.82H427.20M426.93 1026.10H506.30M426.93 1057.50H506.30M405.43 928.56H420.90M405.43 1041.80H427.60M394.22 870.10H506.30M394.22 985.18H406.10" fill="none" stroke="#1a1a1a" stroke-width="1.9"/>
<path d="M435.80 962.85V995.85M427.20 931.35V980.30M420.90 900.35V956.77M427.60 1025.15V1058.45M406.10 927.61V1042.75M394.90 869.15V986.13" fill="none" stroke="#1a1a1a" stroke-width="1.35"/>
<text x="428.9" y="856.4" font-size="14.7" fill="#111" stroke="#111" stroke-width="0.15" textLength="53.9" lengthAdjust="spacingAndGlyphs">PrimerF</text>
<text x="25.0" y="25.4" font-size="23.5" fill="#111" textLength="30.4" lengthAdjust="spacingAndGlyphs">(A)</text>
<text x="34.9" y="561.3" font-size="23.5" fill="#111" textLength="30.1" lengthAdjust="spacingAndGlyphs">(B)</text>
</g></svg></div></body></html>
